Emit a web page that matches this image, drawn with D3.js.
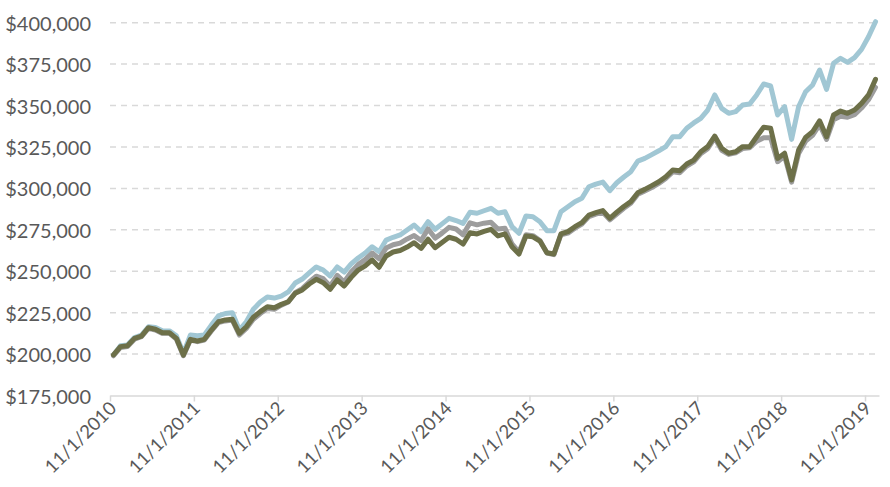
<!DOCTYPE html>
<html>
<head>
<meta charset="utf-8">
<script src="https://cdn.jsdelivr.net/npm/d3@7"></script>
<style>
  html, body { margin: 0; padding: 0; background: #fff; }
  svg { display: block; }
  text { font-family: Lato, "Open Sans", sans-serif; fill: #595959; }
</style>
</head>
<body>
<svg id="chart" width="890" height="487"></svg>
<script>
// ---- data (monthly, Nov 2010 – Dec 2019), values in dollars ----
const startMonth = "2010-11-01";
const monthCount = 110;
const tickLabels = ["11/1/2010","11/1/2011","11/1/2012","11/1/2013","11/1/2014",
                    "11/1/2015","11/1/2016","11/1/2017","11/1/2018","11/1/2019"];
const yTicks = [175000,200000,225000,250000,275000,300000,325000,350000,375000,400000];

const seriesBlue = [
  199.5,205.0,205.5,210.0,211.5,216.5,216.0,214.0,214.0,211.0,
  200.5,211.5,211.0,211.5,217.5,223.0,224.5,225.0,214.5,219.5,
  227.0,231.4,234.4,233.8,235.0,237.5,242.9,245.3,249.0,252.6,
  250.7,247.1,252.6,249.5,254.4,258.0,261.0,264.8,261.8,268.8,
  270.5,271.9,274.9,277.9,273.9,279.9,275.3,278.6,281.9,280.6,
  278.9,285.6,285.0,286.5,288.0,285.0,285.9,276.9,272.9,283.3,
  282.9,279.9,274.5,274.5,285.9,288.9,292.0,294.0,301.0,302.6,
  303.8,298.6,303.4,306.9,310.1,316.5,318.1,320.4,322.7,325.2,
  331.2,331.2,336.3,339.5,342.3,347.3,356.4,348.3,345.3,346.3,
  350.3,350.9,356.4,363.0,361.8,344.3,349.3,329.6,349.3,358.3,
  362.4,371.4,359.8,375.5,378.5,376.1,378.9,383.9,391.5,400.6
].map(v => v * 1000);

const seriesGray = [
  199.0,204.0,204.5,209.0,210.5,215.5,214.5,212.5,212.5,209.0,
  199.0,208.5,207.5,208.5,214.0,219.0,220.0,220.5,211.5,215.5,
  221.0,224.5,227.5,227.0,229.5,231.5,237.0,239.5,243.5,247.0,
  245.5,241.0,247.5,243.5,249.5,254.0,257.0,261.0,257.5,264.0,
  266.0,267.0,269.5,271.5,268.5,275.5,270.0,273.0,276.5,275.5,
  272.0,279.2,278.0,279.0,279.5,275.5,276.0,266.5,261.5,272.0,
  271.5,268.5,261.0,260.0,272.0,273.0,276.0,278.5,283.0,284.5,
  285.5,281.0,284.5,288.0,291.0,296.5,298.5,300.5,303.0,306.0,
  310.0,309.5,313.5,316.0,321.0,324.0,330.5,323.0,320.5,321.5,
  324.0,324.5,328.5,330.5,330.5,316.1,319.5,303.8,321.0,328.5,
  332.0,338.5,329.5,341.5,343.5,343.0,344.5,348.5,353.5,361.0
].map(v => v * 1000);

const seriesOlive = [
  199.5,204.5,205.0,209.5,210.9,215.9,215.0,212.9,212.9,209.5,
  199.4,208.9,207.9,208.9,214.5,219.5,220.6,221.0,212.5,216.5,
  222.2,225.6,228.6,228.0,230.0,231.6,236.7,238.7,242.3,245.1,
  243.1,239.1,244.7,241.1,246.3,250.7,253.2,256.8,252.4,259.2,
  261.6,262.5,264.6,267.2,263.8,269.3,264.2,267.3,270.5,269.3,
  266.4,273.2,272.5,274.0,275.3,271.3,272.5,264.8,260.4,271.3,
  270.8,268.2,261.2,260.4,272.5,273.9,276.9,279.3,283.9,285.3,
  286.6,281.9,285.7,289.1,292.0,297.4,299.4,301.7,304.0,307.0,
  311.1,310.7,314.7,317.1,322.1,325.2,331.6,324.2,321.2,322.1,
  325.2,325.2,331.2,336.9,336.3,318.1,321.2,305.1,323.2,330.8,
  334.2,340.8,331.2,344.3,346.7,345.3,347.3,351.3,356.4,365.8
].map(v => v * 1000);

(function () {
  const seriesList = [
    { name: "blue",  values: seriesBlue,  color: "#a1c7d4" },
    { name: "gray",  values: seriesGray,  color: "#9d9d9d" },
    { name: "olive", values: seriesOlive, color: "#6d7049" }
  ];

  const svg = d3.select("#chart");
  const mLeft = 110, mRight = 879, mTop = 22.7, mBottom = 395.5;

  const x = d3.scaleLinear().domain([0, monthCount]).range([mLeft, mRight]);
  const y = d3.scaleLinear().domain([175000, 400000]).range([mBottom, mTop]);

  // gridlines
  svg.append("g").selectAll("line")
    .data(yTicks.filter(t => t > 175000))
    .join("line")
    .attr("x1", mLeft).attr("x2", mRight)
    .attr("y1", d => y(d)).attr("y2", d => y(d))
    .attr("stroke", "#d9d9d9").attr("stroke-width", 1.5)
    .attr("stroke-dasharray", "6,5");

  // y axis labels
  const fmt = d3.format(",");
  svg.append("g").selectAll("text")
    .data(yTicks)
    .join("text")
    .attr("x", 91).attr("y", d => y(d))
    .attr("text-anchor", "end").attr("dominant-baseline", "central")
    .attr("font-size", 20)
    .text(d => "$" + fmt(d));

  // x axis
  const xAxis = d3.axisBottom(x)
    .tickValues(d3.range(0, monthCount, 12))
    .tickFormat((d, i) => tickLabels[i])
    .tickSize(6)
    .tickSizeOuter(0);
  const gx = svg.append("g").attr("transform", `translate(0,${mBottom})`).call(xAxis);
  gx.select(".domain").attr("stroke", "#d9d9d9").attr("stroke-width", 1.5);
  gx.selectAll(".tick line").attr("stroke", "#d9d9d9").attr("stroke-width", 1.5);
  gx.selectAll(".tick text")
    .attr("font-size", 18.5).attr("font-family", "Lato, sans-serif").attr("fill", "#595959")
    .attr("text-anchor", "end")
    .attr("dy", null).attr("y", 0)
    .attr("transform", "translate(7,14) rotate(-45)");

  // lines
  const line = d3.line()
    .x((d, i) => x(i + 0.5))
    .y(d => y(d));

  svg.append("g").selectAll("path")
    .data(seriesList)
    .join("path")
    .attr("fill", "none")
    .attr("stroke", d => d.color)
    .attr("stroke-width", 5)
    .attr("stroke-linejoin", "round")
    .attr("stroke-linecap", "round")
    .attr("d", d => line(d.values));
})();
</script>
</body>
</html>
